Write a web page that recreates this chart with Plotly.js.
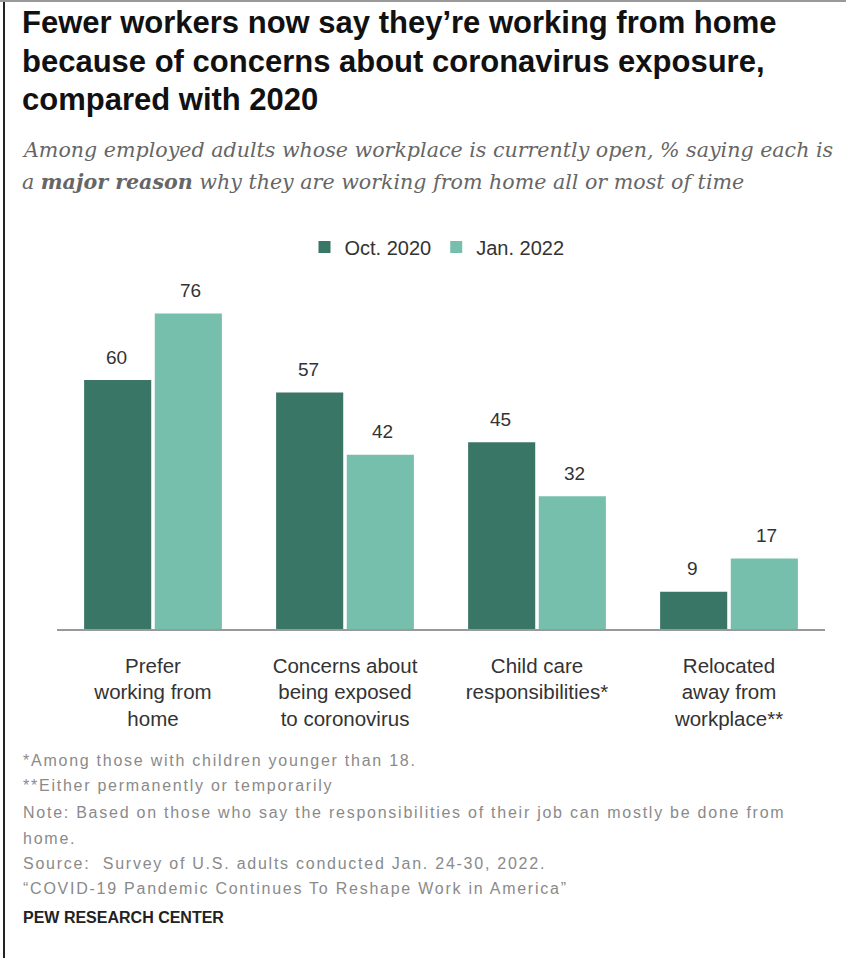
<!DOCTYPE html>
<html>
<head>
<meta charset="utf-8">
<script src="https://cdn.plot.ly/plotly-3.0.1.min.js"></script>
<style>
html,body{margin:0;padding:0;background:#fff;}
#chart{width:846px;height:958px;}
</style>
</head>
<body>
<div id="chart"></div>
<script>
// ---- data ----
const categories = ["Prefer<br>working from<br>home", "Concerns about<br>being exposed<br>to coronovirus", "Child care<br>responsibilities*", "Relocated<br>away from<br>workplace**"];
const catKeys = ["prefer", "concerns", "childcare", "relocated"];
const seriesNames = ["Oct. 2020", "Jan. 2022"];
const oct2020 = [60, 57, 45, 9];
const jan2022 = [76, 42, 32, 17];

const titleLines = [
  "Fewer workers now say they\u2019re working from home",
  "because of concerns about coronavirus exposure,",
  "compared with 2020"
];
const subtitleLines = [
  "Among employed adults whose workplace is currently open, % saying each is",
  "a <b>major reason</b> why they are working from home all or most of time"
];
const noteLines = [
  "*Among those with children younger than 18.",
  "**Either permanently or temporarily",
  "Note: Based on those who say the responsibilities of their job can mostly be done from",
  "home.",
  "Source:  Survey of U.S. adults conducted Jan. 24-30, 2022.",
  "\u201cCOVID-19 Pandemic Continues To Reshape Work in America\u201d"
];
const sourceLabel = "PEW RESEARCH CENTER";

// ---- layout geometry ----
const W = 846, H = 958;
const mL = 57, mR = 21, mT = 297, mB = 329;
const yMax = 80;
const plotW = W - mL - mR, plotH = H - mT - mB;
const px2x = px => (px - mL) / plotW;
const py2y = py => (H - mB - py) / plotH;

const colors = ["#3a7666", "#77bfad"];
const sans = "'Liberation Sans', Arial, sans-serif";
const serif = "'DejaVu Serif', Georgia, serif";

const traces = [
  {type: "bar", name: seriesNames[0], x: catKeys, y: oct2020, marker: {color: colors[0]}, hoverinfo: "none"},
  {type: "bar", name: seriesNames[1], x: catKeys, y: jan2022, marker: {color: colors[1]}, hoverinfo: "none"}
];

const annotations = [];
const titleY = [22, 61, 100];
titleLines.forEach((t, i) => annotations.push({
  xref: "paper", yref: "paper", x: px2x(20), y: py2y(titleY[i]), xanchor: "left", yanchor: "middle",
  text: "<b>" + t + "</b>", showarrow: false, font: {family: sans, size: 31, color: "#111"}
}));
const subY = [150, 182];
subtitleLines.forEach((t, i) => annotations.push({
  xref: "paper", yref: "paper", x: px2x(20), y: py2y(subY[i]), xanchor: "left", yanchor: "middle",
  text: "<i>" + t + "</i>", showarrow: false, font: {family: serif, size: 20.6, color: "#666"}
}));
const noteY = [760, 785, 812, 838, 863, 888];
noteLines.forEach((t, i) => annotations.push({
  xref: "paper", yref: "paper", x: px2x(21), y: py2y(noteY[i]), xanchor: "left", yanchor: "middle",
  text: '<span style="letter-spacing:1.75px">' + t + '</span>', showarrow: false,
  font: {family: sans, size: 16, color: "#8a8a8a"}
}));
annotations.push({
  xref: "paper", yref: "paper", x: px2x(21), y: py2y(917), xanchor: "left", yanchor: "middle",
  text: "<b>" + sourceLabel + "</b>", showarrow: false, font: {family: sans, size: 16, color: "#222"}
});
// value labels
[oct2020, jan2022].forEach((vals, s) => {
  vals.forEach((v, i) => annotations.push({
    xref: "x", yref: "y", x: catKeys[i], y: v, xshift: s === 0 ? -37 : 37, yshift: 23,
    yanchor: "middle", text: String(v), showarrow: false,
    font: {family: sans, size: 19, color: "#333"}
  }));
});

const layout = {
  width: W, height: H,
  margin: {l: mL, r: mR, t: mT, b: mB, pad: 0},
  paper_bgcolor: "#fff", plot_bgcolor: "#fff",
  barmode: "group", bargap: 0.264, bargroupgap: 0.05,
  showlegend: true,
  legend: {
    orientation: "h", x: px2x(437), xanchor: "center", y: py2y(247), yanchor: "middle",
    font: {family: sans, size: 20, color: "#333"}, itemwidth: 30, traceorder: "normal",
    bgcolor: "rgba(0,0,0,0)"
  },
  xaxis: {
    type: "category", tickvals: catKeys, ticktext: categories, range: [-0.5, 3.5],
    showline: true, linecolor: "#999", linewidth: 2, ticks: "", showgrid: false, zeroline: false,
    tickfont: {family: sans, size: 20.5, color: "#333"}, ticklabelstandoff: 17, fixedrange: true
  },
  yaxis: {
    range: [0, yMax], showticklabels: false, showgrid: false, zeroline: false, showline: false, fixedrange: true
  },
  annotations: annotations,
  shapes: [
    {type: "line", xref: "paper", yref: "paper", x0: px2x(4), x1: px2x(4), y0: py2y(0), y1: py2y(H), line: {color: "#222", width: 2}},
    {type: "line", xref: "paper", yref: "paper", x0: px2x(0), x1: px2x(W), y0: py2y(1), y1: py2y(1), line: {color: "#999", width: 2}}
  ]
};

Plotly.newPlot("chart", traces, layout, {displayModeBar: false, staticPlot: true});
</script>
</body>
</html>
